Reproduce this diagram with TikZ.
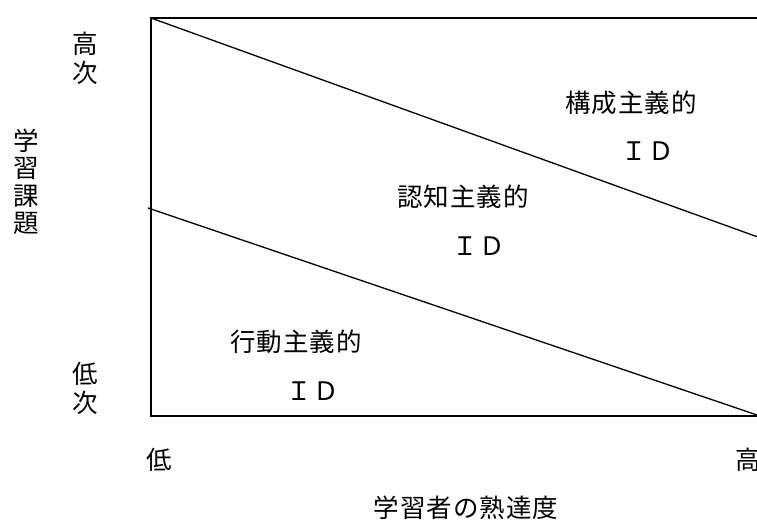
\documentclass[tikz,border=0pt]{standalone}
\usepackage{fontspec}
\newfontfamily\jp[LetterSpace=4]{Noto Sans CJK JP}
\begin{document}
\begin{tikzpicture}[x=1pt,y=-1pt,
  lbl/.style={font=\jp\fontsize{25.5}{29}\selectfont, inner sep=0pt, anchor=center},
  vlbl/.style={lbl, align=center},
  edge/.style={line width=1.6pt, line cap=rect},
  diag/.style={line width=1.3pt}]
\useasboundingbox (0,0) rectangle (757,520);
\clip (0,0) rectangle (757,520);
\coordinate (tl) at (151,18);
\coordinate (bl) at (151,416);
\coordinate (tr) at (780,18);
\coordinate (br) at (780,416);
\coordinate (d1e) at (780,245);
\coordinate (d2s) at (148,208);
\coordinate (d2e) at (760,416);
\draw[edge] (tr) -- (tl) -- (bl) -- (br);
\draw[diag] (tl) -- (d1e);
\draw[diag] (d2s) -- (d2e);
\node[lbl] (c1) at (631,103) {構成主義的};
\node[lbl] (c2) at (648,151) {ＩＤ};
\node[lbl] (n1) at (463,197) {認知主義的};
\node[lbl] (n2) at (479,246) {ＩＤ};
\node[lbl] (b1) at (296,342) {行動主義的};
\node[lbl] (b2) at (313,391) {ＩＤ};
\node[vlbl] (hi) at (85,58) {高\\次};
\node[vlbl] (lo) at (85,388) {低\\次};
\node[lbl] (xlo) at (159,460) {低};
\node[lbl] (xhi) at (748,460) {高};
\node[lbl] (xlab) at (466,508) {学習者の熟達度};
\node[vlbl, font=\jp\fontsize{25.5}{27.5}\selectfont] (ylab) at (26,182) {学\\習\\課\\題};
\end{tikzpicture}
\end{document}
